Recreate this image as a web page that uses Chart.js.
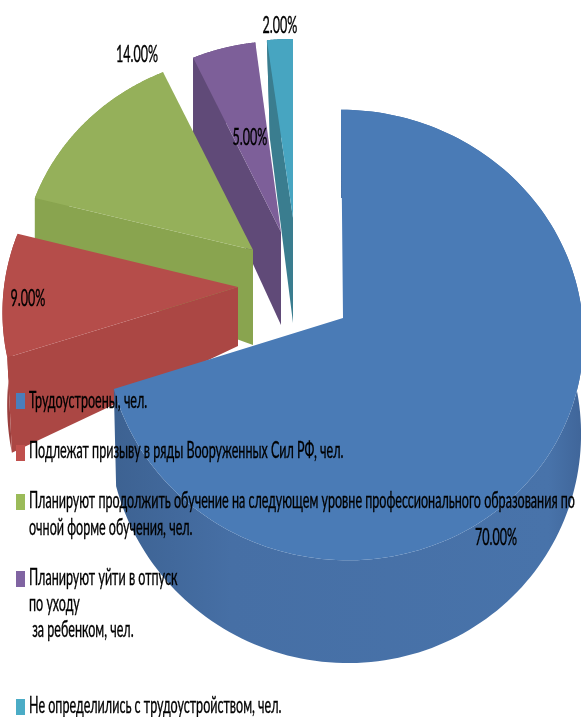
<!DOCTYPE html>
<html lang="ru">
<head>
<meta charset="utf-8">
<style>
  html, body { margin: 0; padding: 0; background: #fff; overflow: hidden; }
  canvas { display: block; }
</style>
<script src="https://cdn.jsdelivr.net/npm/chart.js@4"></script>
</head>
<body>
<canvas id="pie3d" width="581" height="717"></canvas>
<script>
// данные диаграммы
const categories = [
  'Трудоустроены, чел.',
  'Подлежат призыву в ряды Вооруженных Сил РФ, чел.',
  'Планируют продолжить обучение на следующем уровне профессионального образования по очной форме обучения, чел.',
  'Планируют уйти в отпуск по уходу за ребенком, чел.',
  'Не определились с трудоустройством, чел.'
]
const shares = [70, 9, 14, 5, 2]

// подписи легенды построчно, как в оригинале
const legendLines = [
  ['Трудоустроены, чел.'],
  ['Подлежат призыву в ряды Вооруженных Сил РФ, чел.'],
  ['Планируют продолжить обучение на следующем уровне профессионального образования по', 'очной форме обучения, чел.'],
  ['Планируют уйти в отпуск', 'по уходу', ' за ребенком, чел.'],
  ['Не определились с трудоустройством, чел.']
]

// оформление секторов: вершина, радиусы, перспектива k, глубина стенок
const sliceLook = [
  { ox: 343, oy: 318, rx: 238, ry: 224, k: 0.0756, dApex: 0, dRim: 95, rimPull: 0.01, cxShift: 1.5, skew: 3.5, top: '#4a7bb6', cut: '#3f6596' },
  { ox: 238, oy: 287, rx: 234, ry: 220, k: 0.114, dApex: 59, dRim: 92, rimPull: 0.02, cxShift: 0, skew: 0, top: '#b54d4a', cut: '#ab4744', wall: '#9a3f3d' },
  { ox: 253, oy: 250, rx: 231, ry: 215, k: 0.104, dApex: 95, dRim: 70, rimPull: 0, cxShift: 0, skew: 0, top: '#95b05a', cut: '#89a44f', wall: '#89a44f' },
  { ox: 281, oy: 232, rx: 225, ry: 210, k: 0.1, dApex: 93, dRim: 83, rimPull: 0, cxShift: 0, skew: 0, top: '#7d5f99', cut: '#604a78', wall: '#604a78' },
  { ox: 293, oy: 218, rx: 229, ry: 197, k: 0.1, dApex: 105, dRim: 108, rimPull: 0.115, cxShift: 0, skew: 0, top: '#47a5c1', cut: '#3a7d8f', wall: '#3a7d8f' }
]

const legendLook = [
  { box: 393, lines: [408] },
  { box: 445, lines: [458] },
  { box: 494, lines: [508, 535] },
  { box: 571, lines: [585, 611, 637] },
  { box: 699, lines: [713] }
]
const labelSpots = [[496, 545], [28, 306], [137, 62], [250, 145], [280, 33]]
const legendBoxColors = ['#4a7ebb', '#c0504d', '#9bbb59', '#8064a2', '#4bacc6']

function rimPoint(s, a) {
  const v = Math.sin(a)
  const w = 1 - s.k * v
  return {
    x: s.ox + s.cxShift + s.skew * v + s.rx * Math.cos(a) / w,
    y: s.oy + s.ry * v / w,
    w: w
  }
}

function fillPoly(ctx, pts, style) {
  ctx.beginPath()
  pts.forEach((p, i) => i ? ctx.lineTo(p.x, p.y) : ctx.moveTo(p.x, p.y))
  ctx.closePath()
  ctx.fillStyle = style
  ctx.fill()
}

function drawSlice(ctx, arc, s, index) {
  const steps = 160
  const rim = []
  for (let i = 0; i <= steps; i++) {
    rim.push(rimPoint(s, arc.startAngle + (arc.endAngle - arc.startAngle) * i / steps))
  }
  const low = rim.map(p => ({ x: p.x + (s.ox - p.x) * s.rimPull, y: p.y + s.dRim / p.w }))

  // внешняя стенка
  let wallStyle = s.wall
  if (index === 0) {
    wallStyle = ctx.createLinearGradient(115, 0, 581, 0)
    wallStyle.addColorStop(0, '#3d6292')
    wallStyle.addColorStop(0.25, '#466fa5')
    wallStyle.addColorStop(0.93, '#4873aa')
    wallStyle.addColorStop(1, '#40669a')
  }
  fillPoly(ctx, rim.concat(low.slice().reverse()), wallStyle)

  // срез по начальному краю сектора
  if (index > 0) {
    const apex = { x: s.ox, y: s.oy }
    fillPoly(ctx, [apex, rim[0], low[0], { x: s.ox, y: s.oy + s.dApex }], s.cut)
  }

  // верхняя грань
  fillPoly(ctx, [{ x: s.ox, y: s.oy }].concat(rim), s.top)
}

const pie3dPlugin = {
  id: 'pie3d',
  beforeDatasetDraw(chart, args) {
    const ctx = chart.ctx
    const arcs = args.meta.data
    // дальние секторы рисуем первыми
    for (let i = arcs.length - 1; i >= 0; i--) {
      drawSlice(ctx, arcs[i], sliceLook[i], i)
    }
    return false
  },
  afterDraw(chart) {
    const ctx = chart.ctx
    ctx.save()
    ctx.fillStyle = '#000'
    ctx.textBaseline = 'alphabetic'

    legendLines.forEach((lines, i) => {
      ctx.fillStyle = legendBoxColors[i]
      ctx.fillRect(16, legendLook[i].box, 9, 16)
      ctx.fillStyle = '#000'
      lines.forEach((line, j) => stretchedText(ctx, line, 29, legendLook[i].lines[j], 'left'))
    })

    shares.forEach((v, i) => {
      stretchedText(ctx, v.toFixed(2) + '%', labelSpots[i][0], labelSpots[i][1], 'center')
    })
    ctx.restore()
  }
}

// текст в оригинале сжат по ширине и вытянут по высоте
function stretchedText(ctx, text, x, y, align) {
  ctx.save()
  ctx.translate(x, y)
  ctx.scale(0.5456, 1)
  ctx.font = '23px Lato, "Open Sans", "Noto Sans", sans-serif'
  ctx.textAlign = align
  ctx.strokeStyle = '#000'
  ctx.lineWidth = 0.4
  ctx.fillText(text, 0, 0)
  ctx.strokeText(text, 0, 0)
  ctx.restore()
}

new Chart(document.getElementById('pie3d'), {
  type: 'pie',
  data: {
    labels: categories,
    datasets: [{
      data: shares,
      backgroundColor: sliceLook.map(s => s.top),
      borderWidth: 0
    }]
  },
  options: {
    responsive: false,
    animation: false,
    plugins: {
      legend: { display: false },
      tooltip: { enabled: false }
    }
  },
  plugins: [pie3dPlugin]
})
</script>
</body>
</html>
